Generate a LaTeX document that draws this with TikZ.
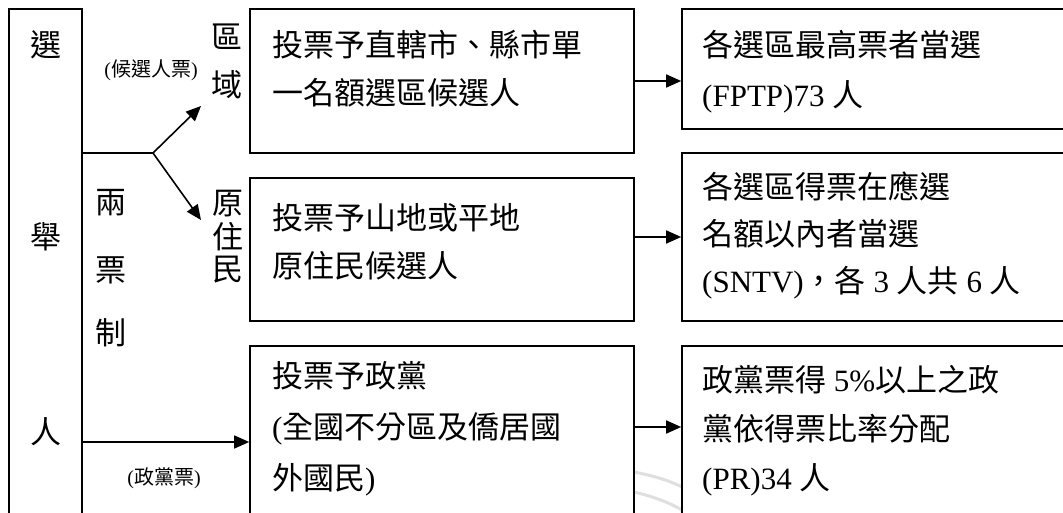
\documentclass[tikz,border=0pt]{standalone}
\usepackage{fontspec}
\setmainfont{Liberation Serif}
\newfontfamily\cjk{Noto Sans CJK TC}
\usetikzlibrary{arrows.meta}
\newcommand{\C}[1]{{\cjk #1}}
\tikzset{
  box/.style={draw, line width=1.6pt, rectangle, inner sep=0pt},
  big/.style={font=\fontsize{31pt}{48pt}\selectfont, inner sep=0pt, align=left},
  ch/.style={font=\fontsize{31pt}{36pt}\selectfont\cjk, inner sep=0pt},
  small/.style={font=\fontsize{20pt}{24pt}\selectfont, inner sep=0pt},
  arr/.style={line width=1.6pt, -{Triangle[length=15pt,width=13pt]}},
  ln/.style={line width=1.6pt}
}
\begin{document}
\begin{tikzpicture}[x=1pt,y=-1pt]
\useasboundingbox (0,0) rectangle (1063,513);
\clip (0,0) rectangle (1063,513);
\fill[white] (0,0) rectangle (1063,513);
% watermark arcs
\draw[gray!25, line width=3pt] (634,472) .. controls (655,476) and (670,481) .. (682,487);
\draw[gray!25, line width=3pt] (634,492) .. controls (655,497) and (670,503) .. (682,510);
% left box
\node[box, minimum width=73pt, minimum height=551pt] (lb) at (45.5,284.5) {};
% middle boxes
\node[box, minimum width=384pt, minimum height=144pt] (b1) at (442,81) {};
\node[box, minimum width=384pt, minimum height=143pt] (b2) at (442,249.5) {};
\node[box, minimum width=384pt, minimum height=214pt] (b3) at (442,453) {};
% right boxes
\node[box, minimum width=393pt, minimum height=120pt] (bA) at (878.5,69) {};
\node[box, minimum width=393pt, minimum height=168pt] (bB) at (878.5,237) {};
\node[box, minimum width=393pt, minimum height=214pt] (bC) at (878.5,453) {};
% left texts
\node[ch] (s1) at (46,45) {選};
\node[ch] (s2) at (46,237) {舉};
\node[ch] (s3) at (46,432) {人};
\node[ch] (m1) at (111,203) {兩};
\node[ch] (m2) at (111,270) {票};
\node[ch] (m3) at (111,333) {制};
\node[ch] (r1) at (227,37) {區};
\node[ch] (r2) at (227,85) {域};
\node[ch] (y1) at (228,204) {原};
\node[ch] (y2) at (228,237) {住};
\node[ch] (y3) at (228,270) {民};
\node[small] (l1) at (151,70) {(\C{候選人票})};
\node[small] (l2) at (164,478) {(\C{政黨票})};
% connectors
\coordinate (br) at (153,153);
\coordinate (up) at (201,106);
\coordinate (dn) at (201,220);
\coordinate (pv) at (82,442);
\draw[ln] (lb.east |- br) -- (br);
\draw[arr] (br) -- (up);
\draw[arr] (br) -- (dn);
\draw[arr] (lb.east |- pv) -- (b3.west |- pv);
\coordinate (p3) at (640,427);
\draw[arr] (b1.east) -- (b1.east -| bA.west);
\draw[arr] (bB.west -| b2.east) -- (bB.west);
\draw[arr] (b3.east |- p3) -- (bC.west |- p3);
% box texts
\node[big, anchor=west] (t1) at (272,69) {\C{投票予直轄市、縣市單}\\\C{一名額選區候選人}};
\node[big, anchor=west] (t2) at (272,242) {\C{投票予山地或平地}\\\C{原住民候選人}};
\node[big, anchor=west, font=\fontsize{31pt}{51pt}\selectfont] (t3) at (272,429) {\C{投票予政黨}\\(\C{全國不分區及僑居國}\\\C{外國民})};
\node[big, anchor=west, font=\fontsize{31pt}{50pt}\selectfont] (tA) at (702,72) {\C{各選區最高票者當選}\\(FPTP)73 \C{人}};
\node[big, anchor=west, font=\fontsize{31pt}{47pt}\selectfont] (tB) at (702,235) {\C{各選區得票在應選}\\\C{名額以內者當選}\\(SNTV)\C{，各} 3 \C{人共} 6 \C{人}};
\node[big, anchor=west, font=\fontsize{31pt}{49pt}\selectfont] (tC) at (702,431) {\C{政黨票得} 5\%\C{以上之政}\\\C{黨依得票比率分配}\\(PR)34 \C{人}};
\end{tikzpicture}
\end{document}
